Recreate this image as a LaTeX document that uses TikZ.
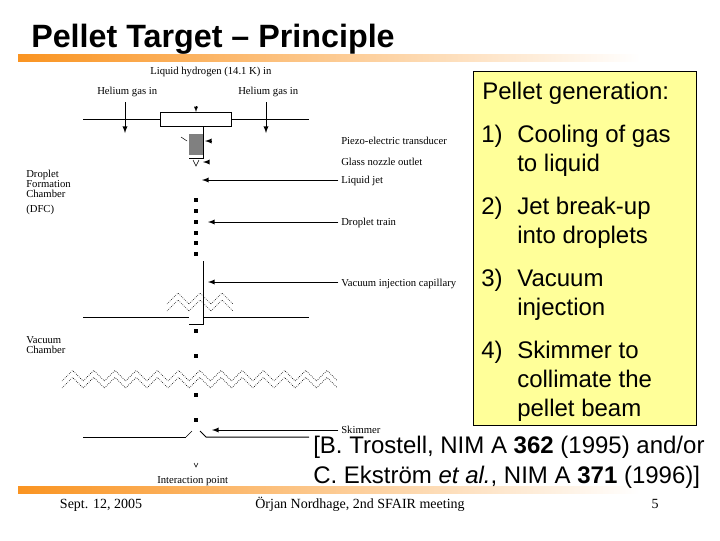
\documentclass[tikz,border=0pt]{standalone}
\usepackage{fontspec}
\setmainfont{Liberation Sans}
\newfontfamily\serifface{Liberation Serif}
\usepackage{xcolor}
\usetikzlibrary{shapes,arrows,positioning,calc}
\definecolor{barorange}{rgb}{0.98, 0.58, 0.13}
\definecolor{paleyellow}{rgb}{1.0, 1.0, 0.6}
\definecolor{nozzlegray}{rgb}{0.5, 0.5, 0.5}
\tikzset{
    slidetext/.style={inner sep=0pt,anchor=base west,align=left,font=\fontsize{18}{21.75}\selectfont},
    schemelabel/.style={inner sep=0pt,anchor=base west,align=left,font=\serifface\fontsize{8}{7.5}\selectfont},
    footertext/.style={inner sep=0pt,anchor=base,font=\serifface\fontsize{10.5}{12}\selectfont},
    wall/.style={line width=0.75pt},
    pointer/.style={->,>=latex,line width=0.75pt},
    droplet/.style={fill=black,inner sep=0pt,minimum width=3pt,minimum height=3pt},
    zigzag/.style={densely dotted,line width=0.5pt}
}
\newcommand{\zigzagline}[4]{% start x, low y, number of teeth, half period
    \foreach \k in {1,...,#3} {
        \draw[zigzag] ({#1+(2*\k-2)*#4},#2) -- ++(#4,-#4) -- ++(#4,#4);
    }
}
\begin{document}
\begin{tikzpicture}[x=0.75pt,y=-0.75pt]
    \useasboundingbox (0,0) rectangle (720,540);

    % Title and bars
    \node[inner sep=0pt,anchor=base west,font=\bfseries\fontsize{24.2}{28}\selectfont] (title) at (31,47) {Pellet Target -- Principle};
    \shade[left color=barorange,right color=white] (18,54) rectangle (640,61);
    \shade[left color=barorange,right color=white] (18,486) rectangle (640,493);

    % Pellet generation box
    \node[rectangle,draw,fill=paleyellow,line width=0.75pt,inner sep=0pt,outer sep=0pt,minimum width=167.25pt,minimum height=265.5pt,anchor=north west] (genbox) at (473.5,71) {};
    \node[slidetext] (gentitle) at (482,99) {Pellet generation:};
    \node[slidetext] (stepa) at (481,142) {1)};
    \node[slidetext] (stepatext) at (517,171) {Cooling of gas\\to liquid};
    \node[slidetext] (stepb) at (481,214) {2)};
    \node[slidetext] (stepbtext) at (517,243) {Jet break-up\\into droplets};
    \node[slidetext] (stepc) at (481,286) {3)};
    \node[slidetext] (stepctext) at (517,315) {Vacuum\\injection};
    \node[slidetext] (stepd) at (481,358) {4)};
    \node[slidetext] (stepdtext) at (517,416) {Skimmer to\\collimate the\\pellet beam};

    % Reference
    \node[slidetext,font=\fontsize{18}{22}\selectfont] (reference) at (313,483) {[B. Trostell, NIM A \textbf{362} (1995) and/or\\C. Ekstr\"om \textit{et al.}, NIM A \textbf{371} (1996)]};

    % Footer
    \node[footertext] (date) at (101,508) {Sept. 12, 2005};
    \node[footertext] (speaker) at (360,508) {\"Orjan Nordhage, 2nd SFAIR meeting};
    \node[footertext] (page) at (655,508) {5};

    % Head of the scheme
    \node[schemelabel] (hydrogen) at (150,74) {Liquid hydrogen (14.1 K) in};
    \node[schemelabel] (heliumleft) at (97,94) {Helium gas in};
    \node[schemelabel] (heliumright) at (238,94) {Helium gas in};
    \node[rectangle,draw,line width=0.75pt,inner sep=0pt,outer sep=0pt,minimum width=53.25pt,minimum height=10.5pt] (head) at (195.5,119.5) {};
    \node[rectangle,fill=nozzlegray,inner sep=0pt,outer sep=0pt,minimum width=10.5pt,minimum height=15.75pt] (piezo) at (196,144.5) {};
    \coordinate (wallleft) at (83,119.5);
    \coordinate (wallright) at (309,119.5);
    \coordinate (gasleftin) at (125,102);
    \coordinate (gasleftout) at (125,133);
    \coordinate (gasrightin) at (266,102);
    \coordinate (gasrightout) at (266,133);
    \draw[wall] (wallleft) -- (head.west);
    \draw[wall] (head.east) -- (wallright);
    \draw[pointer] (gasleftin) -- (gasleftout);
    \draw[pointer] (gasrightin) -- (gasrightout);
    \draw[pointer,line width=0.4pt] (196,106) -- (196,112);

    % Nozzle
    \draw[wall] (203,126) -- (203,158) -- (189,158);
    \draw[line width=0.4pt] (181,137) -- (187,141);
    \draw[line width=0.4pt] (193,160) -- (196,166) -- (199,160);
    \coordinate (piezostub) at (212,141);
    \coordinate (piezotip) at (205,141);
    \coordinate (nozzlestub) at (208,162);
    \coordinate (nozzletip) at (203,162);
    \draw[pointer] (piezostub) -- (piezotip);
    \draw[pointer] (nozzlestub) -- (nozzletip);

    % Droplets
    \foreach \n/\y in {a/200,b/211,c/222,d/233,e/243,f/254,g/331,h/356,i/395,j/420} {
        \node[droplet] (drop\n) at (196,\y) {};
    }

    % Right hand labels with pointers
    \node[schemelabel] (piezolabel) at (341,144) {Piezo-electric transducer};
    \node[schemelabel] (glasslabel) at (341,165) {Glass nozzle outlet};
    \node[schemelabel] (jetlabel) at (341,183) {Liquid jet};
    \node[schemelabel] (trainlabel) at (341,225) {Droplet train};
    \node[schemelabel] (capillarylabel) at (341,286) {Vacuum injection capillary};
    \node[schemelabel] (skimmerlabel) at (341,433) {Skimmer};
    \coordinate (jettip) at (202,180);
    \coordinate (traintip) at (208,222);
    \coordinate (capillarytip) at (208,282);
    \coordinate (skimmertip) at (212,430);
    \foreach \i/\j in {jetlabel/jettip, trainlabel/traintip, capillarylabel/capillarytip, skimmerlabel/skimmertip} {
        \draw[pointer] ([xshift=-2pt]\i.west |- \j) -- (\j);
    }

    % Left hand labels
    \node[schemelabel] (dfclabel) at (26,197) {Droplet\\Formation\\Chamber};
    \node[schemelabel] (dfcshort) at (26,212) {(DFC)};
    \node[schemelabel] (vacuumlabel) at (26,353) {Vacuum\\Chamber};

    % Capillary and chamber wall
    \draw[wall] (203,261) -- (203,324) -- (189,324);
    \draw[wall] (83,317) -- (189,317);
    \draw[wall] (203,317) -- (309,317);
    \zigzagline{167}{304}{3}{11}
    \zigzagline{167}{311}{3}{11}
    \zigzagline{62}{381}{13}{10.6}
    \zigzagline{62}{388}{13}{10.6}

    % Skimmer
    \draw[wall] (83,437) -- (186,437);
    \draw[line width=0.4pt] (186,437) -- (192,431);
    \draw[wall] (200,431) -- (206,437) -- (309,437);

    % Interaction point
    \node[schemelabel] (interaction) at (157,483) {Interaction point};
    \draw[line width=0.4pt] (194,463) -- (196,467) -- (198,463);
\end{tikzpicture}
\end{document}
